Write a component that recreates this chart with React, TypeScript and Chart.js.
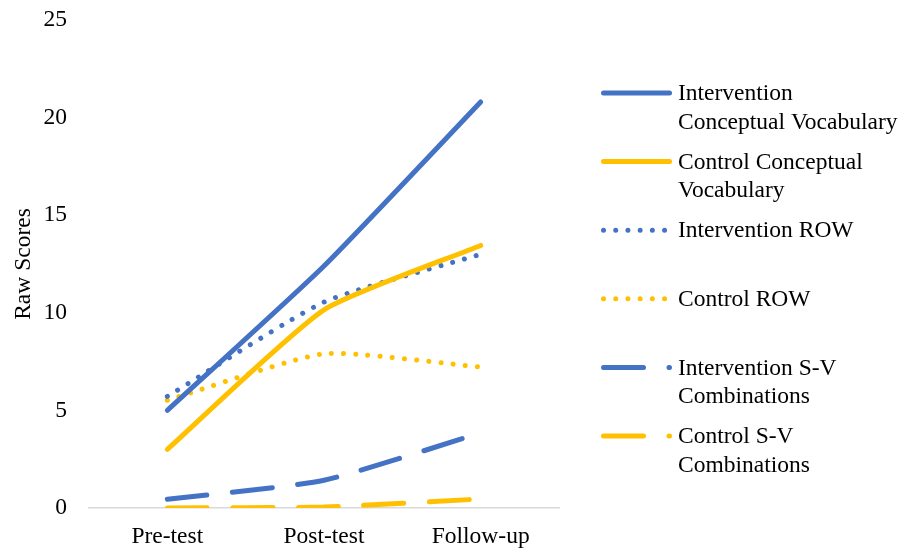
import React, { useEffect, useRef } from "react";
import { Chart, registerables } from "chart.js";

Chart.register(...registerables);

const categories = ["Pre-test", "Post-test", "Follow-up"];
const interventionCV = [5.0, 12.4, 20.8];
const controlCV = [3.0, 10.15, 13.45];
const interventionROW = [5.72, 10.55, 13.0];
const controlROW = [5.52, 7.9, 7.22];
const interventionSV = [0.45, 1.42, 3.85];
const controlSV = [0.0, 0.05, 0.46];
const yTicks = [0, 5, 10, 15, 20, 25];
const seriesNames = [
  "Intervention Conceptual Vocabulary",
  "Control Conceptual Vocabulary",
  "Intervention ROW",
  "Control ROW",
  "Intervention S-V Combinations",
  "Control S-V Combinations",
];
const legendLines = [
  ["Intervention", "Conceptual Vocabulary"],
  ["Control Conceptual", "Vocabulary"],
  ["Intervention ROW"],
  ["Control ROW"],
  ["Intervention S-V", "Combinations"],
  ["Control S-V", "Combinations"],
];

const BLUE = "#4472C4";
const GOLD = "#FFC000";
const FONT = "'Liberation Serif', 'Times New Roman', serif";
const FS = 23.5;

const DOT = [0.01, 12.2];
const DASH = [40, 25.5];

export default function App() {
  const ref = useRef<HTMLCanvasElement | null>(null);

  useEffect(() => {
    document.body.style.margin = "0";
    const canvas = ref.current;
    if (!canvas) return;

    const legendPlugin = {
      id: "customLegend",
      afterDraw(chart: any) {
        const ctx = chart.ctx;
        const area = chart.chartArea;
        const x0 = area.right + 44.5;
        const x1 = area.right + 110.5;
        const tx = area.right + 119;
        ctx.save();
        chart.data.datasets.forEach((ds: any, i: number) => {
          const y = area.top + 73 + i * 68.6;
          ctx.beginPath();
          ctx.strokeStyle = ds.borderColor;
          ctx.lineWidth = ds.borderWidth;
          ctx.lineCap = "round";
          ctx.setLineDash(ds.borderDash || []);
          ctx.moveTo(x0, y);
          ctx.lineTo(x1, y);
          ctx.stroke();
          ctx.setLineDash([]);
          ctx.fillStyle = "#000";
          ctx.font = `${FS}px ${FONT}`;
          ctx.textAlign = "left";
          ctx.textBaseline = "middle";
          legendLines[i].forEach((line, j) => {
            ctx.fillText(line, tx, y + 1 + j * 28.5);
          });
        });
        ctx.restore();
      },
    };

    const mk = (label: string, data: number[], color: string, dash: number[] | undefined) => ({
      label,
      data,
      borderColor: color,
      backgroundColor: color,
      borderWidth: 5,
      borderDash: dash,
      borderCapStyle: "round",
      borderJoinStyle: "round",
      pointRadius: 0,
      tension: 0.18,
      fill: false,
    });

    const chart = new Chart(canvas, {
      type: "line",
      data: {
        labels: categories,
        datasets: [
          mk(seriesNames[0], interventionCV, BLUE, undefined),
          mk(seriesNames[1], controlCV, GOLD, undefined),
          mk(seriesNames[2], interventionROW, BLUE, DOT),
          mk(seriesNames[3], controlROW, GOLD, DOT),
          mk(seriesNames[4], interventionSV, BLUE, DASH),
          mk(seriesNames[5], controlSV, GOLD, DASH),
        ] as any,
      },
      options: {
        responsive: false,
        animation: false,
        devicePixelRatio: 1,
        layout: { padding: { top: 20, right: 349, left: 0, bottom: 0 } },
        plugins: {
          legend: { display: false },
          tooltip: { enabled: false },
        },
        scales: {
          x: {
            offset: true,
            grid: { display: false, drawTicks: false },
            border: { display: true, color: "#D9D9D9", width: 1.5 },
            ticks: { color: "#000", font: { family: FONT, size: FS }, padding: 15 },
            afterFit: (s: any) => {
              s.height = 46;
              s.paddingLeft = 0;
              s.paddingRight = 0;
            },
          },
          y: {
            min: 0,
            max: 25,
            grid: { display: false, drawTicks: false },
            border: { display: false },
            afterBuildTicks: (s: any) => {
              s.ticks = yTicks.map((v) => ({ value: v }));
            },
            ticks: { color: "#000", font: { family: FONT, size: FS }, padding: 22 },
            title: {
              display: true,
              text: "Raw Scores",
              color: "#000",
              font: { family: FONT, size: FS },
              padding: { top: 10, bottom: 0 },
            },
            afterFit: (s: any) => {
              s.width = 89;
              s.paddingTop = 0;
              s.paddingBottom = 0;
            },
          },
        },
      },
      plugins: [legendPlugin],
    } as any);

    return () => chart.destroy();
  }, []);

  return (
    <div style={{ width: 908, height: 554 }}>
      <canvas ref={ref} width={908} height={554} style={{ display: "block" }} />
    </div>
  );
}
